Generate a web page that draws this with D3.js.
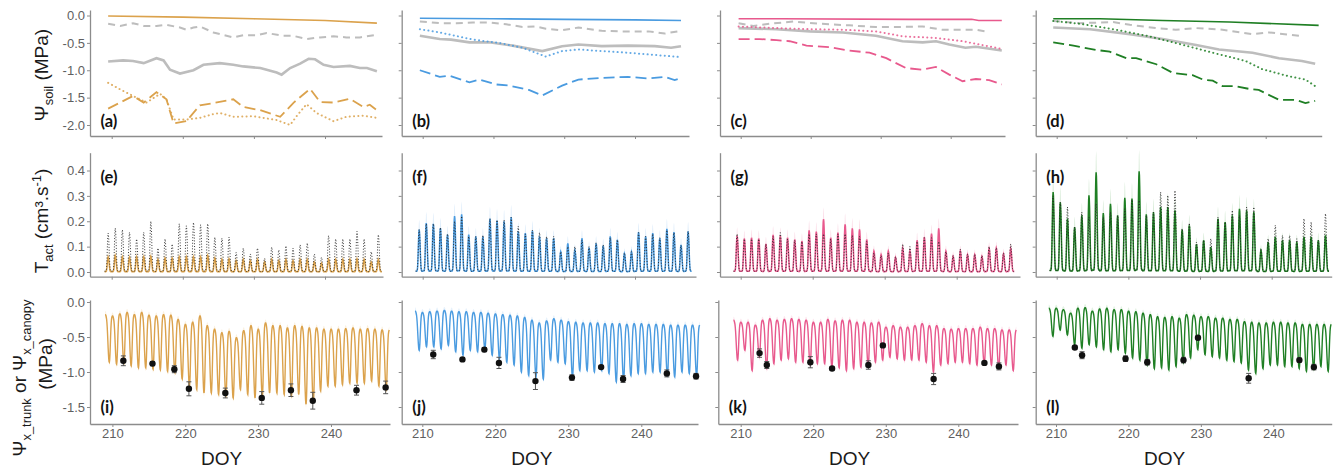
<!DOCTYPE html>
<html>
<head>
<meta charset="utf-8">
<script src="https://cdn.jsdelivr.net/npm/d3@7"></script>
<style>
  body { margin: 0; background: #fff; }
  svg { display: block; }
</style>
</head>
<body>
<svg id="chart" width="1341" height="468"></svg>
<script>
// ---------- tick values ----------
const xTicks = [210, 220, 230, 240];
const yTicksSoil = [0, -0.5, -1, -1.5, -2];
const yTicksT = [0, 0.1, 0.2, 0.3, 0.4];
const yTicksPsi = [0, -0.5, -1, -1.5];
const panelLetters = [["(a)", "(b)", "(c)", "(d)"], ["(e)", "(f)", "(g)", "(h)"], ["(i)", "(j)", "(k)", "(l)"]];

// ---------- row 1: soil water potential by layer, [DOY, MPa] ----------
const soilSurfA = [[209.5,-0.01],[220,-0.03],[230,-0.06],[240,-0.09],[247.3,-0.14]];
const soilGrayDashA = [[209.5,-0.15],[211.2,-0.19],[213,-0.14],[214.5,-0.19],[216.3,-0.19],[217.7,-0.17],[219.6,-0.22],[220.5,-0.26],[221.5,-0.22],[222.4,-0.2],[224.3,-0.31],[227.1,-0.4],[228.5,-0.36],[230.4,-0.36],[231.8,-0.32],[234.1,-0.37],[235.5,-0.37],[237.4,-0.43],[239.3,-0.4],[241.2,-0.38],[243,-0.4],[244.9,-0.4],[247.3,-0.35]];
const soilGrayA = [[209.5,-0.84],[211.6,-0.82],[213,-0.83],[214.5,-0.87],[216.3,-0.78],[217.3,-0.82],[218.2,-0.99],[219.6,-1.06],[221.5,-1.0],[222.9,-0.9],[225.2,-0.87],[227.1,-0.9],[228.5,-0.93],[230.9,-0.96],[233.2,-1.04],[233.9,-1.08],[235.1,-0.96],[236.5,-0.88],[237.7,-0.79],[238.6,-0.8],[239.8,-0.9],[241.2,-0.94],[243.5,-0.92],[244.9,-0.96],[245.9,-0.96],[247.3,-1.02]];
const soilDotA = [[209.5,-1.23],[211.2,-1.35],[213,-1.47],[214.9,-1.59],[216.8,-1.43],[217.7,-1.53],[218.7,-1.9],[220.5,-1.9],[222.4,-1.87],[224.3,-1.8],[225.2,-1.78],[227.1,-1.85],[229.9,-1.84],[231.8,-1.88],[233.2,-1.91],[235.1,-2.0],[236,-1.84],[237.4,-1.62],[238.8,-1.78],[241.2,-1.93],[243,-1.85],[245.4,-1.83],[247.3,-1.87]];
const soilDashA = [[209.5,-1.7],[211.2,-1.59],[213,-1.47],[214.5,-1.59],[216.3,-1.4],[217.7,-1.53],[218.7,-1.97],[220.5,-1.93],[222.4,-1.64],[224.3,-1.6],[227.1,-1.53],[228.5,-1.67],[230.9,-1.73],[233.7,-1.85],[235.6,-1.59],[237.9,-1.34],[239.3,-1.58],[241.2,-1.59],[243.5,-1.52],[245.4,-1.67],[246.3,-1.63],[247.3,-1.73]];

const soilSurfB = [[209.6,-0.05],[220,-0.06],[230,-0.07],[240,-0.08],[246.5,-0.09]];
const soilGrayDashB = [[209.6,-0.11],[212.4,-0.14],[214.8,-0.14],[217.1,-0.13],[219.4,-0.13],[221.8,-0.16],[224.1,-0.21],[226,-0.2],[227.4,-0.24],[229.7,-0.27],[232,-0.22],[235.3,-0.28],[238.1,-0.29],[241.9,-0.29],[244.2,-0.33],[246.5,-0.28]];
const soilGrayB = [[209.6,-0.37],[212.4,-0.43],[214,-0.44],[216.6,-0.49],[219.4,-0.49],[222.7,-0.55],[226.9,-0.65],[229.7,-0.56],[232,-0.53],[235.3,-0.56],[239,-0.55],[242.8,-0.56],[245.1,-0.59],[246.5,-0.56]];
const soilDotB = [[209.6,-0.25],[212.4,-0.31],[217.1,-0.44],[220.8,-0.5],[224.1,-0.59],[227.4,-0.75],[229.7,-0.65],[232,-0.62],[235.3,-0.65],[239,-0.68],[242.8,-0.72],[246.5,-0.76]];
const soilDashB = [[209.6,-1.0],[212.4,-1.12],[213.8,-1.1],[216.6,-1.22],[218,-1.17],[220.4,-1.26],[222.2,-1.28],[225,-1.36],[226.9,-1.46],[229.7,-1.28],[232,-1.17],[235.3,-1.14],[239,-1.12],[241.9,-1.15],[244.2,-1.12],[245.6,-1.18],[246.5,-1.14]];

const soilSurfC = [[209.7,-0.06],[215.5,-0.06],[234,-0.07],[243,-0.07],[244,-0.09],[247.3,-0.09]];
const soilGrayDashC = [[209.7,-0.14],[211.8,-0.19],[214.2,-0.15],[217.5,-0.11],[221.3,-0.15],[225.5,-0.18],[229.3,-0.21],[232.2,-0.21],[236,-0.2],[238.8,-0.26],[243.6,-0.26],[245,-0.29]];
const soilGrayC = [[209.7,-0.23],[215.1,-0.25],[219.9,-0.29],[224.6,-0.31],[229.3,-0.37],[233.1,-0.47],[236,-0.49],[237.9,-0.47],[239.8,-0.53],[242.1,-0.59],[243.6,-0.57],[247.3,-0.64]];
const soilDotC = [[209.7,-0.2],[215.1,-0.23],[219.9,-0.25],[224.6,-0.26],[229.3,-0.29],[233.1,-0.38],[237.9,-0.41],[241.7,-0.47],[247.3,-0.61]];
const soilDashC = [[209.7,-0.43],[212.7,-0.43],[215.1,-0.45],[217,-0.47],[219.4,-0.55],[222.7,-0.58],[225.5,-0.64],[228.4,-0.68],[230.8,-0.78],[233.6,-0.96],[236,-0.99],[237.9,-0.94],[239.8,-1.08],[241.7,-1.2],[243.6,-1.16],[245.5,-1.18],[247.3,-1.26]];

const soilSurfD = [[209.5,-0.06],[216.2,-0.06],[225.2,-0.09],[234.8,-0.12],[247.6,-0.18]];
const soilGrayDashD = [[209.5,-0.1],[213.3,-0.14],[218.1,-0.12],[220.5,-0.17],[224.3,-0.23],[227.1,-0.26],[230,-0.23],[233.8,-0.26],[238.1,-0.34],[240.5,-0.31],[244.8,-0.37]];
const soilGrayD = [[209.5,-0.22],[214.8,-0.25],[220.5,-0.34],[225.2,-0.43],[230,-0.54],[233.3,-0.62],[238.1,-0.68],[241.9,-0.78],[245.2,-0.83],[247.1,-0.88]];
const soilDotD = [[209.5,-0.1],[213.3,-0.15],[218.1,-0.25],[222.9,-0.37],[227.6,-0.52],[232.4,-0.68],[237.1,-0.83],[239.5,-0.98],[243.3,-1.11],[245.7,-1.17],[247.1,-1.29]];
const soilDashD = [[209.5,-0.49],[212.4,-0.55],[215.7,-0.63],[217.6,-0.66],[220,-0.78],[221.4,-0.78],[224.3,-0.89],[226.7,-1.05],[229.5,-1.09],[231,-1.17],[232.4,-1.19],[233.8,-1.29],[235.7,-1.29],[237.6,-1.34],[239,-1.36],[241.9,-1.54],[244.3,-1.54],[245.7,-1.6],[247.1,-1.56]];

// ---------- row 2: daily peak transpiration (cm3 s-1), days 209..247 ----------
const firstDay = 209;
const tObsE = [0.153,0.173,0.166,0.156,0.13,0.156,0.2,0.094,0.13,0.11,0.19,0.182,0.195,0.186,0.19,0.137,0.133,0.137,0.077,0.094,0.071,0.094,0.054,0.098,0.087,0.103,0.094,0.107,0.114,0.071,0.058,0.143,0.13,0.13,0.13,0.16,0.13,0.08,0.147];
const tModE = [0.06,0.065,0.06,0.058,0.06,0.06,0.062,0.05,0.055,0.055,0.06,0.06,0.06,0.06,0.065,0.055,0.05,0.052,0.045,0.05,0.045,0.05,0.04,0.05,0.045,0.05,0.045,0.05,0.05,0.04,0.035,0.05,0.05,0.05,0.05,0.052,0.05,0.04,0.05];
const tObsF = [0.167,0.19,0.19,0.175,0.15,0.2,0.22,0.14,0.14,0.145,0.21,0.205,0.205,0.215,0.18,0.15,0.165,0.155,0.14,0.14,0.08,0.1,0.1,0.125,0.1,0.115,0.107,0.135,0.127,0.075,0.08,0.155,0.14,0.15,0.135,0.165,0.155,0.105,0.16];
const tModF = [0.167,0.193,0.19,0.173,0.147,0.22,0.227,0.147,0.14,0.14,0.21,0.203,0.2,0.216,0.16,0.153,0.163,0.14,0.133,0.133,0.08,0.113,0.087,0.133,0.096,0.113,0.104,0.14,0.127,0.073,0.08,0.157,0.14,0.153,0.133,0.17,0.157,0.107,0.16];
const tObsG = [0.15,0.13,0.13,0.13,0.11,0.14,0.155,0.13,0.125,0.12,0.15,0.15,0.15,0.13,0.15,0.15,0.145,0.14,0.12,0.075,0.065,0.075,0.06,0.11,0.1,0.12,0.135,0.135,0.12,0.08,0.065,0.09,0.07,0.07,0.065,0.1,0.095,0.075,0.11];
const tModG = [0.142,0.132,0.135,0.132,0.111,0.146,0.142,0.135,0.128,0.122,0.164,0.159,0.208,0.135,0.155,0.188,0.172,0.168,0.128,0.082,0.069,0.082,0.058,0.095,0.082,0.125,0.138,0.151,0.172,0.082,0.062,0.082,0.069,0.069,0.062,0.093,0.095,0.072,0.093];
const tObsH = [0.3,0.275,0.256,0.177,0.236,0.216,0.269,0.216,0.236,0.223,0.249,0.285,0.282,0.223,0.236,0.315,0.302,0.321,0.171,0.193,0.118,0.125,0.131,0.216,0.197,0.243,0.223,0.256,0.256,0.092,0.131,0.184,0.144,0.144,0.131,0.21,0.197,0.125,0.23];
const tModH = [0.315,0.275,0.21,0.177,0.223,0.302,0.393,0.232,0.269,0.223,0.292,0.289,0.397,0.227,0.236,0.256,0.256,0.243,0.167,0.184,0.109,0.125,0.098,0.21,0.197,0.223,0.249,0.243,0.236,0.085,0.118,0.138,0.125,0.125,0.118,0.138,0.138,0.125,0.144];
// hourly fraction of the daily peak (hour 0..24)
const transpShape = [0.02,0.02,0.02,0.02,0.02,0.03,0.06,0.15,0.32,0.55,0.78,0.94,1.0,0.96,0.84,0.66,0.45,0.27,0.13,0.06,0.03,0.02,0.02,0.02,0.02];

// ---------- row 3: xylem water potential, nightly high and midday low (MPa) ----------
const psiMaxI = [-0.18,-0.2,-0.17,-0.15,-0.18,-0.15,-0.19,-0.2,-0.18,-0.19,-0.25,-0.32,-0.29,-0.2,-0.34,-0.39,-0.44,-0.42,-0.51,-0.41,-0.34,-0.39,-0.3,-0.34,-0.34,-0.37,-0.34,-0.35,-0.37,-0.37,-0.39,-0.39,-0.39,-0.38,-0.37,-0.39,-0.38,-0.39,-0.4];
const psiMinI = [-0.86,-0.89,-0.87,-0.91,-0.94,-0.94,-0.96,-0.97,-0.99,-1.01,-1.1,-1.2,-1.25,-1.3,-1.3,-1.32,-1.34,-1.37,-1.25,-1.32,-1.37,-1.35,-1.3,-1.3,-1.32,-1.34,-1.32,-1.46,-1.44,-1.27,-1.2,-1.2,-1.18,-1.16,-1.16,-1.16,-1.13,-1.2,-1.25];
const psiMaxJ = [-0.13,-0.15,-0.14,-0.13,-0.12,-0.13,-0.14,-0.14,-0.15,-0.15,-0.16,-0.17,-0.18,-0.19,-0.2,-0.22,-0.26,-0.3,-0.27,-0.24,-0.26,-0.28,-0.29,-0.3,-0.3,-0.3,-0.31,-0.31,-0.31,-0.32,-0.31,-0.31,-0.32,-0.32,-0.32,-0.33,-0.33,-0.33,-0.33];
const psiMinJ = [-0.69,-0.64,-0.64,-0.67,-0.62,-0.71,-0.76,-0.69,-0.71,-0.67,-0.76,-0.81,-0.86,-0.9,-1.0,-1.05,-1.07,-1.1,-0.83,-0.86,-0.88,-1.07,-0.98,-0.98,-1.0,-0.98,-1.02,-1.14,-1.12,-1.05,-1.02,-1.02,-1.0,-1.0,-1.05,-1.07,-1.0,-1.02,-1.05];
const psiMaxK = [-0.26,-0.29,-0.29,-0.33,-0.26,-0.24,-0.26,-0.25,-0.24,-0.25,-0.26,-0.29,-0.29,-0.25,-0.27,-0.26,-0.26,-0.29,-0.29,-0.3,-0.29,-0.36,-0.34,-0.36,-0.36,-0.34,-0.31,-0.34,-0.34,-0.38,-0.39,-0.38,-0.38,-0.38,-0.36,-0.38,-0.38,-0.4,-0.4];
const psiMinK = [-0.83,-0.69,-0.98,-0.79,-0.95,-0.88,-0.83,-0.81,-0.86,-0.86,-0.9,-0.88,-0.88,-0.93,-0.94,-0.98,-0.95,-0.93,-0.9,-0.86,-0.83,-0.79,-0.81,-0.83,-0.83,-0.83,-0.86,-1.0,-0.9,-0.88,-0.86,-0.86,-0.88,-0.9,-0.88,-0.9,-0.94,-0.9,-0.98];
const psiMaxL = [-0.09,-0.09,-0.11,-0.16,-0.09,-0.08,-0.13,-0.1,-0.09,-0.11,-0.11,-0.13,-0.14,-0.16,-0.18,-0.21,-0.22,-0.21,-0.23,-0.18,-0.19,-0.21,-0.21,-0.23,-0.23,-0.25,-0.25,-0.28,-0.29,-0.3,-0.3,-0.29,-0.29,-0.3,-0.3,-0.32,-0.32,-0.32,-0.32];
const psiMinL = [-0.49,-0.4,-0.47,-0.61,-0.66,-0.61,-0.64,-0.68,-0.71,-0.68,-0.73,-0.8,-0.83,-0.9,-0.95,-0.94,-0.97,-0.92,-0.87,-0.8,-0.68,-0.75,-0.78,-0.8,-0.83,-0.85,-0.87,-0.97,-1.02,-0.95,-0.9,-0.9,-0.92,-0.92,-0.95,-0.99,-0.96,-0.92,-0.99];
// hourly fraction of the daily drop from the nightly high to the midday low (hour 0..24)
const psiShape = [0,0,0.01,0.03,0.06,0.1,0.17,0.27,0.4,0.55,0.7,0.83,0.93,0.99,1.0,0.95,0.83,0.65,0.45,0.28,0.15,0.07,0.03,0.01,0];

// measured water potential (mean, error) on sampling days
const measDaysIJ = [211.5,215.5,218.5,220.5,225.5,230.5,234.5,237.5,243.5,247.5];
const measI = [-0.84,-0.88,-0.96,-1.24,-1.3,-1.37,-1.26,-1.41,-1.26,-1.22];
const errI = [0.07,0.03,0.05,0.1,0.07,0.09,0.09,0.12,0.07,0.09];
const measJ = [-0.75,-0.82,-0.68,-0.87,-1.13,-1.08,-0.93,-1.1,-1.02,-1.06];
const errJ = [0.06,0.02,0.03,0.08,0.12,0.04,0.02,0.05,0.05,0.04];
const measDaysKL = [212.6,213.6,219.6,222.6,227.6,229.6,236.6,243.6,245.6];
const measK = [-0.73,-0.9,-0.86,-0.95,-0.9,-0.62,-1.1,-0.87,-0.92];
const errK = [0.06,0.05,0.08,0.02,0.06,0.02,0.08,0.02,0.05];
const measL = [-0.65,-0.76,-0.81,-0.86,-0.83,-0.51,-1.09,-0.83,-0.93];
const errL = [0.02,0.05,0.04,0.04,0.04,0.02,0.07,0.03,0.04];

// ---------- styling / layout ----------
const colColor = ["#DBA24C", "#4A9BE0", "#E8598D", "#1F7F24"];
const colLight = ["#F3DDB8", "#C7E0F7", "#F8C9DA", "#BFE0BF"];
const gray = "#BDBDBD";
const axisColor = "#8C8C8C";
const tickText = "#5F5F5F";

const ROWS = [
  { top: 10,    bottom: 136,   ref: [0, 15.5, -2, 125],  ticks: yTicksSoil, labelY: 127 },
  { top: 152.7, bottom: 276.7, ref: [0, 272, 0.4, 170.5], ticks: yTicksT,   labelY: 183 },
  { top: 300,   bottom: 424,   ref: [0, 302, -1.5, 407], ticks: yTicksPsi,  labelY: 413 }
];
// per row, per column: [left, right, pixel of DOY 210, pixel of DOY 240]
const COLS = [
  [[90, 382, 111.7, 325], [401.7, 689, 422.7, 635], [720, 1005, 740.7, 950.7], [1035.7, 1321.7, 1056.7, 1265.7]],
  [[90, 383, 111.7, 325], [401.7, 696, 422.7, 635], [720, 1020, 740.7, 956.7], [1035.7, 1331.7, 1056.7, 1271.7]],
  [[90, 390, 112.4, 331], [401.7, 698, 422.3, 641.3], [718.3, 1018, 740.7, 958.3], [1035.7, 1331.7, 1056, 1273.3]]
];

const svg = d3.select("#chart");
const FONT = "'Liberation Sans', Arial, sans-serif";

function makeScales(r, c) {
  const row = ROWS[r];
  const [left, right, p210, p240] = COLS[r][c];
  const x = d3.scaleLinear().domain([210, 240]).range([p210, p240]);
  x.domain([x.invert(left), x.invert(right)]).range([left, right]);
  const y = d3.scaleLinear().domain([row.ref[0], row.ref[2]]).range([row.ref[1], row.ref[3]]);
  y.domain([y.invert(row.bottom), y.invert(row.top)]).range([row.bottom, row.top]);
  return { x, y };
}

function drawAxes(g, x, y, r, c) {
  const ya = d3.axisLeft(y).tickValues(ROWS[r].ticks).tickSize(3).tickSizeOuter(0).tickPadding(2)
    .tickFormat(c === 0 ? d => d.toFixed(1) : () => "");
  g.append("g").attr("transform", `translate(${x.range()[0]},0)`).call(ya);
  const xa = d3.axisBottom(x).tickValues(xTicks).tickSize(3).tickSizeOuter(0).tickPadding(2)
    .tickFormat(r === 2 ? d3.format("d") : () => "");
  g.append("g").attr("transform", `translate(0,${y.range()[0]})`).call(xa);
  g.selectAll(".domain").attr("stroke", axisColor).attr("stroke-width", 1.3);
  g.selectAll(".tick line").attr("stroke", axisColor).attr("stroke-width", 1);
  g.selectAll(".tick text").attr("fill", tickText).attr("font-size", 13).attr("font-family", FONT);
}

const soilSets = [
  [soilSurfA, soilGrayDashA, soilGrayA, soilDotA, soilDashA],
  [soilSurfB, soilGrayDashB, soilGrayB, soilDotB, soilDashB],
  [soilSurfC, soilGrayDashC, soilGrayC, soilDotC, soilDashC],
  [soilSurfD, soilGrayDashD, soilGrayD, soilDotD, soilDashD]
];
const tSets = [[tObsE, tModE], [tObsF, tModF], [tObsG, tModG], [tObsH, tModH]];
const psiSets = [[psiMaxI, psiMinI], [psiMaxJ, psiMinJ], [psiMaxK, psiMinK], [psiMaxL, psiMinL]];
const measSets = [[measDaysIJ, measI, errI], [measDaysIJ, measJ, errJ], [measDaysKL, measK, errK], [measDaysKL, measL, errL]];

function diurnalT(peaks) {
  const pts = [];
  peaks.forEach((p, i) => transpShape.forEach((s, h) => {
    if (h < 24 || i === peaks.length - 1) pts.push({ t: firstDay + i + h / 24, v: p * s });
  }));
  return pts;
}
function diurnalPsi(maxs, mins) {
  const pts = [];
  maxs.forEach((m, i) => psiShape.forEach((s, h) => {
    if (h === 24 && i < maxs.length - 1) return;
    const base = h < 14 ? m : (i + 1 < maxs.length ? maxs[i + 1] : m);
    pts.push({ t: firstDay + i + h / 24, v: base + (mins[i] - base) * s });
  }));
  return pts;
}

for (let r = 0; r < 3; r++) {
  for (let c = 0; c < 4; c++) {
    const { x, y } = makeScales(r, c);
    const g = svg.append("g");
    const col = colColor[c];

    if (r === 0) {
      const [surf, gDash, gSolid, dot, dash] = soilSets[c];
      const line = d3.line().x(d => x(d[0])).y(d => y(d[1]));
      g.append("path").attr("d", line(gDash)).attr("fill", "none").attr("stroke", gray)
        .attr("stroke-width", 2).attr("stroke-dasharray", "7,5");
      g.append("path").attr("d", line(gSolid)).attr("fill", "none").attr("stroke", gray)
        .attr("stroke-width", 2.6);
      g.append("path").attr("d", line(dot)).attr("fill", "none").attr("stroke", col)
        .attr("stroke-width", 2).attr("stroke-dasharray", "0.1,4.2").attr("stroke-linecap", "round")
        .attr("opacity", 0.85);
      g.append("path").attr("d", line(dash)).attr("fill", "none").attr("stroke", col)
        .attr("stroke-width", 1.8).attr("stroke-dasharray", "11,5");
      g.append("path").attr("d", line(surf)).attr("fill", "none").attr("stroke", col)
        .attr("stroke-width", 1.6);
    } else if (r === 1) {
      const [obs, mod] = tSets[c];
      const modPts = diurnalT(mod), obsPts = diurnalT(obs);
      const band = d3.area().x(d => x(d.t)).y0(d => y(d.v * 0.8)).y1(d => y(d.v * 1.2 + 0.006));
      g.append("path").attr("d", band(modPts)).attr("fill", colLight[c]).attr("opacity", 0.6);
      const line = d3.line().x(d => x(d.t)).y(d => y(d.v));
      g.append("path").attr("d", line(modPts)).attr("fill", "none").attr("stroke", col)
        .attr("stroke-width", 1.5);
      g.append("path").attr("d", line(obsPts)).attr("fill", "none").attr("stroke", "#222")
        .attr("stroke-width", 0.9).attr("stroke-dasharray", "1,1.8");
    } else {
      const [maxs, mins] = psiSets[c];
      const pts = diurnalPsi(maxs, mins);
      const band = d3.area().x(d => x(d.t)).y0(d => y(d.v - 0.05)).y1(d => y(d.v + 0.05));
      g.append("path").attr("d", band(pts)).attr("fill", colLight[c]).attr("opacity", 0.45);
      const line = d3.line().x(d => x(d.t)).y(d => y(d.v));
      g.append("path").attr("d", line(pts)).attr("fill", "none").attr("stroke", col)
        .attr("stroke-width", 1.4);
      const [mDays, mVals, mErr] = measSets[c];
      const pg = g.append("g");
      mDays.forEach((d, i) => {
        const cx = x(d);
        pg.append("line").attr("x1", cx).attr("x2", cx)
          .attr("y1", y(mVals[i] - mErr[i])).attr("y2", y(mVals[i] + mErr[i]))
          .attr("stroke", "#555").attr("stroke-width", 1);
        [mVals[i] - mErr[i], mVals[i] + mErr[i]].forEach(v => {
          pg.append("line").attr("x1", cx - 2.5).attr("x2", cx + 2.5).attr("y1", y(v)).attr("y2", y(v))
            .attr("stroke", "#555").attr("stroke-width", 1);
        });
        pg.append("circle").attr("cx", cx).attr("cy", y(mVals[i])).attr("r", 3.2).attr("fill", "#111");
      });
    }

    drawAxes(g, x, y, r, c);

    g.append("text").attr("x", COLS[r][c][0] + 10.5).attr("y", ROWS[r].labelY)
      .attr("font-family", "Lato, 'Open Sans', sans-serif").attr("font-weight", 700)
      .attr("font-size", 16.5).attr("fill", "#111").text(panelLetters[r][c]);

    if (r === 2) {
      g.append("text").attr("x", (x(210) + x(240)) / 2).attr("y", 465)
        .attr("text-anchor", "middle").attr("font-family", FONT).attr("font-size", 19)
        .attr("fill", "#1a1a1a").text("DOY");
    }
  }
}

// ---------- axis titles ----------
function vTitle(xPos, yPos, parts, size) {
  const t = svg.append("text").attr("transform", `translate(${xPos},${yPos}) rotate(-90)`)
    .attr("text-anchor", "middle").attr("font-family", FONT).attr("font-size", size).attr("fill", "#1a1a1a");
  parts.forEach(p => {
    const s = t.append("tspan").text(p.text);
    if (p.sub) s.attr("font-size", size * 0.68).attr("dy", size * 0.28);
    if (p.sup) s.attr("font-size", size * 0.68).attr("dy", -size * 0.38);
    if (p.back) s.attr("dy", p.back);
  });
}
vTitle(48, 75, [{ text: "Ψ" }, { text: "soil", sub: true }, { text: " (MPa)", back: -19 * 0.28 }], 19);
vTitle(48, 221, [{ text: "T" }, { text: "act", sub: true }, { text: " (cm³.s", back: -19 * 0.28 }, { text: "-1", sup: true }, { text: ")", back: 19 * 0.38 }], 19);
vTitle(26, 378, [{ text: "Ψ" }, { text: "x_trunk", sub: true }, { text: " or Ψ", back: -19 * 0.28 }, { text: "x_canopy", sub: true }], 19);
vTitle(52, 364, [{ text: "(MPa)" }], 19);
</script>
</body>
</html>
